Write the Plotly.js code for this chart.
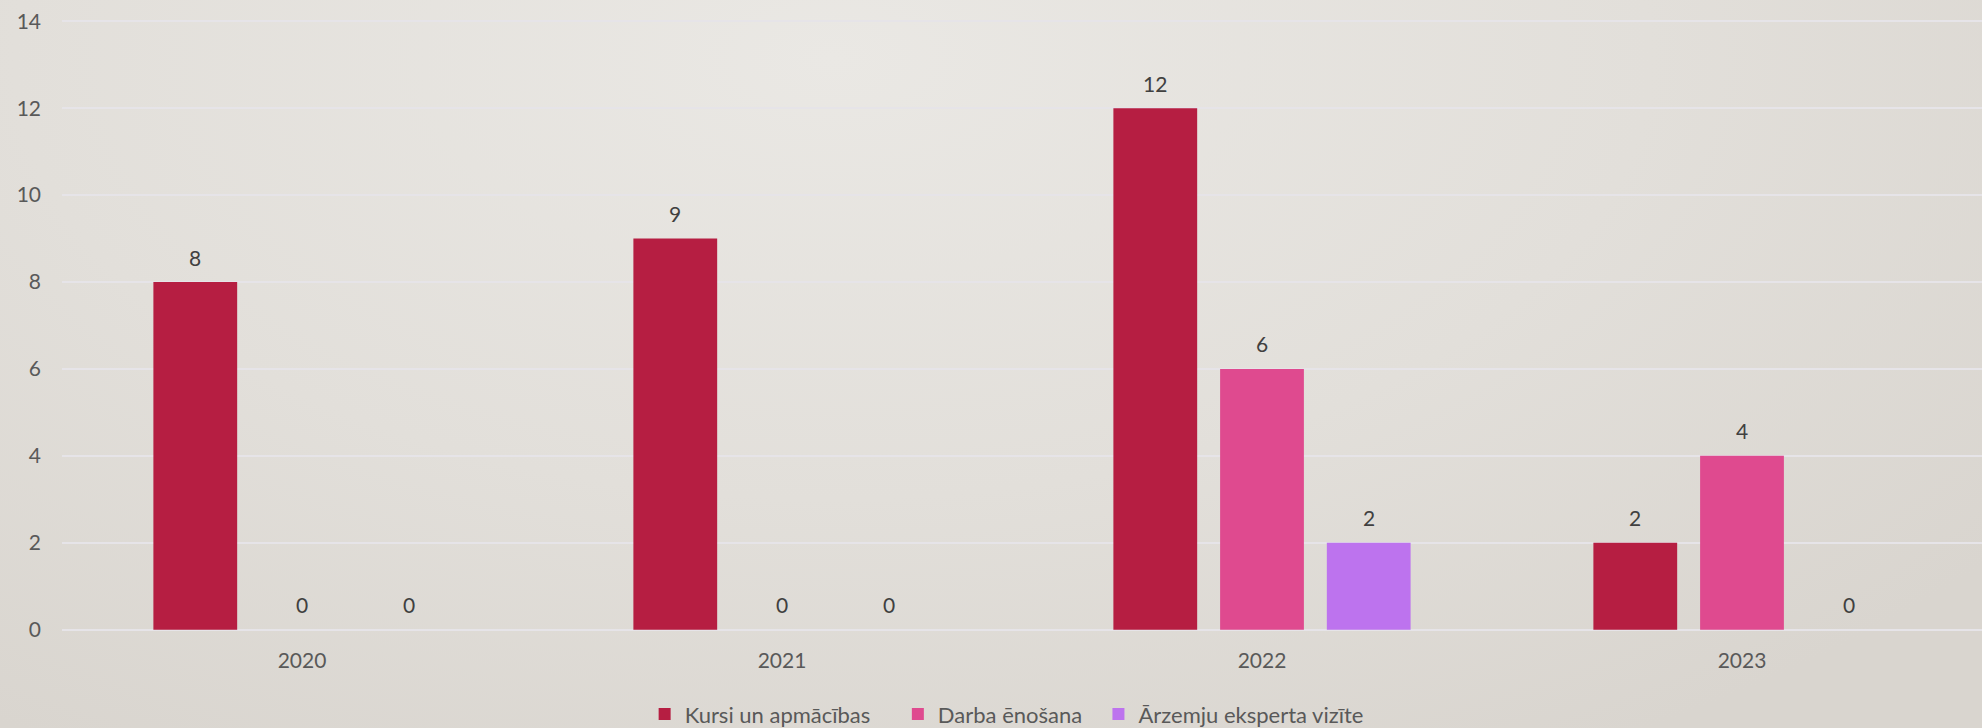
<!DOCTYPE html>
<html>
<head>
<meta charset="utf-8">
<script src="https://cdn.plot.ly/plotly-3.0.1.min.js"></script>
<style>
  html, body { margin: 0; padding: 0; }
  body {
    width: 1982px; height: 728px; overflow: hidden;
    background: radial-gradient(ellipse 75% 110% at 42% 8%, #EAE8E4 0%, #E2DFDA 55%, #D9D5CF 100%);
  }
  #chart { width: 1982px; height: 728px; }
</style>
</head>
<body>
<div id="chart"></div>
<script>
const years = ["2020", "2021", "2022", "2023"];
const seriesNames = ["Kursi un apmācības", "Darba ēnošana", "Ārzemju eksperta vizīte"];
const kursi = [8, 9, 12, 2];
const enosana = [0, 0, 6, 4];
const vizite = [0, 0, 2, 0];
const seriesValues = [kursi, enosana, vizite];
const seriesColors = ["#B61E42", "#DF4A8F", "#BD73EE"];
const yTicks = [0, 2, 4, 6, 8, 10, 12, 14];

const FONT = "Lato, 'Open Sans', sans-serif";
const BARGAP = 0.333;
const legendPad = ["\u00a0\u00a0\u00a0\u00a0", "\u00a0\u00a0", ""];

const traces = seriesNames.map((name, i) => ({
  type: "bar",
  name: name + legendPad[i],
  x: years,
  y: seriesValues[i],
  marker: { color: seriesColors[i] },
  textposition: "none",
  hovertemplate: name + ": %{y}<extra></extra>"
}));

// data labels above each bar, positioned through the category axis
const nS = seriesNames.length;
const slot = (1 - BARGAP) / nS;
const annotations = [];
seriesValues.forEach((vals, i) => {
  vals.forEach((v, j) => {
    annotations.push({
      xref: "x", yref: "y",
      x: j + (i - (nS - 1) / 2) * slot,
      y: v,
      text: String(v),
      showarrow: false,
      yanchor: "middle",
      yshift: 25,
      font: { family: FONT, size: 21, color: "#404040" }
    });
  });
});

const layout = {
  width: 1982,
  height: 728,
  margin: { l: 62, r: 0, t: 20, b: 97 },
  paper_bgcolor: "rgba(0,0,0,0)",
  plot_bgcolor: "rgba(0,0,0,0)",
  barmode: "group",
  bargap: BARGAP,
  bargroupgap: 0.215,
  font: { family: FONT, size: 21, color: "#595959" },
  xaxis: {
    type: "category",
    showgrid: false,
    showline: false,
    zeroline: false,
    ticks: "",
    ticklabelstandoff: 15,
    tickfont: { family: FONT, size: 21, color: "#595959" }
  },
  yaxis: {
    range: [-0.03, 14.03],
    tickvals: yTicks,
    ticktext: yTicks.map(String),
    showgrid: true,
    gridcolor: "#E6E4E8",
    gridwidth: 2,
    zeroline: false,
    showline: false,
    ticks: "",
    ticklabelstandoff: 20,
    tickfont: { family: FONT, size: 21, color: "#595959" }
  },
  annotations: annotations,
  showlegend: true,
  legend: {
    orientation: "h",
    xref: "paper",
    yref: "container",
    x: 0.492,
    xanchor: "center",
    y: 0.019,
    yanchor: "middle",
    font: { family: FONT, size: 22, color: "#595959" },
    bgcolor: "rgba(0,0,0,0)",
    itemwidth: 30,
    traceorder: "normal"
  }
};

Plotly.newPlot("chart", traces, layout, { displayModeBar: false, responsive: false });
</script>
</body>
</html>
